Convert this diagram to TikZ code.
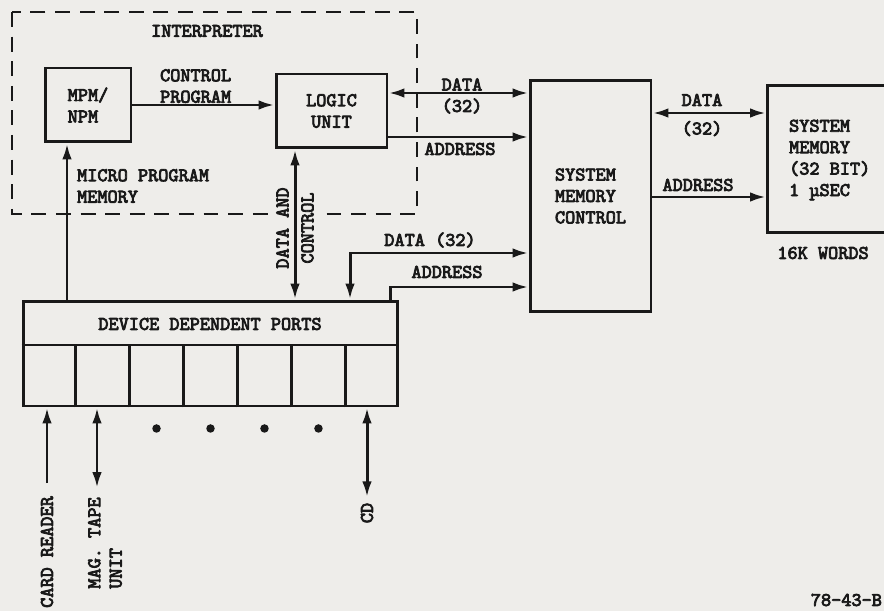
\documentclass[tikz,border=0pt]{standalone}
\usepackage{fontspec}
\setmonofont{lmmono10-regular.otf}[AutoFakeBold=4]
\usetikzlibrary{arrows.meta,calc,positioning}
\definecolor{paper}{RGB}{238,237,234}
\definecolor{ink}{RGB}{25,25,25}
\tikzset{
  box/.style={draw=ink, line width=1.7pt, inner sep=0pt},
  lbl/.style={text=ink, font=\ttfamily\bfseries\fontsize{11}{12.2}\selectfont, inner sep=1pt},
  flow/.style={draw=ink, line width=1.7pt},
}

\begin{document}
\begin{tikzpicture}[x=0.02cm,y=-0.02cm,>={Latex[length=9pt,width=5.4pt]}]
  % page
  \fill[paper] (0,0) rectangle (884,611);
  \useasboundingbox (0,0) rectangle (884,611);
  \clip (0,0) rectangle (884,611);

  % interpreter outline
  \draw[ink, line width=1.6pt, dash pattern=on 8.5pt off 5.5pt] (12,12) rectangle (417,214);
  \node[lbl] (interp) at (207,31) {INTERPRETER};

  % blocks
  \node[box, lbl, align=left, minimum width=1.72cm, minimum height=1.48cm] (mpm) at (88,105) {MPM/\\NPM};
  \node[box, lbl, align=center, minimum width=2.22cm, minimum height=1.48cm] (logic) at (331.5,111) {LOGIC\\UNIT};
  \node[box, lbl, align=left, minimum width=2.42cm, minimum height=4.64cm] (smc) at (590.5,196) {SYSTEM\\MEMORY\\CONTROL};
  \node[box, minimum width=2.9cm, minimum height=2.96cm, anchor=west] (mem) at (766,159) {};
  \node[lbl, align=left, anchor=west] (memtxt) at (787,160) {SYSTEM\\MEMORY\\(32 BIT)\\1 µSEC};
  \node[lbl] (words) at (823,253) {16K WORDS};

  % device dependent ports
  \node[box, minimum width=7.5cm, minimum height=2.1cm] (ddp) at (210.5,353.5) {};
  \coordinate (split) at (0,345);
  \draw[flow] (ddp.west |- split) -- (ddp.east |- split);
  \node[lbl] (ddptxt) at (210,324) {DEVICE DEPENDENT PORTS};
  \foreach \i in {1,...,6}
    \draw[flow] ($(ddp.south west)!\i/7!(ddp.south east)$) coordinate (cut) -- (cut |- split);
  \foreach \i in {2.5,3.5,4.5,5.5}
    \fill[ink] ($(ddp.south west)!\i/7!(ddp.south east)$) ++(0,21) circle (0.085cm);

  % control program and micro program memory
  \draw[flow,->] (mpm.east) -- (logic.west |- mpm.east);
  \node[lbl, align=left, anchor=south west] (ctltxt) at (158,105) {CONTROL\\PROGRAM};
  \coordinate (mpin) at (67,0);
  \draw[flow,->] (mpin |- ddp.north) -- (mpin |- mpm.south);
  \node[lbl, align=left, anchor=west] (mptxt) at (75,186) {MICRO PROGRAM\\MEMORY};

  % data and control link
  \coordinate (dc) at (295,0);
  \node[lbl, rotate=90, align=center, fill=paper, inner ysep=4pt] (dctxt) at (295,228) {DATA AND\\[2pt]CONTROL};
  \draw[flow,<->] (dc |- logic.south) -- (dc |- ddp.north);

  % buses to memory control
  \coordinate (bus1) at (0,93);
  \coordinate (bus2) at (0,137);
  \draw[flow,<->] (logic.east |- bus1) -- (smc.west |- bus1);
  \draw[flow,->] (logic.east |- bus2) -- (smc.west |- bus2);
  \node[lbl, align=center] (bus1txt) at (462,96) {DATA\\(32)};
  \node[lbl] (bus2txt) at (460,149) {ADDRESS};

  \coordinate (bus3) at (350,253);
  \coordinate (bus4) at (390,287);
  \draw[flow,<->] (bus3 |- ddp.north) |- (smc.west |- bus3);
  \draw[flow,->] (bus4 |- ddp.north) |- (smc.west |- bus4);
  \node[lbl] (bus3txt) at (430,240) {DATA (32)};
  \node[lbl] (bus4txt) at (447,272) {ADDRESS};

  % buses to system memory
  \coordinate (bus5) at (0,113);
  \coordinate (bus6) at (0,197);
  \draw[flow,<->] (smc.east |- bus5) -- (mem.west |- bus5);
  \draw[flow,->] (smc.east |- bus6) -- (mem.west |- bus6);
  \node[lbl, align=center] (bus5txt) at (702,115) {DATA\\[4pt](32)};
  \node[lbl] (bus6txt) at (698,185) {ADDRESS};

  % peripherals
  \node[lbl, rotate=90] (cr) at (47,552) {CARD READER};
  \coordinate (crp) at (47,483);
  \draw[flow,->] (crp) -- (crp |- ddp.south);
  \node[lbl, rotate=90, align=left] (mt) at (105,543) {MAG. TAPE\\UNIT};
  \coordinate (mtp) at (97,488);
  \draw[flow,<->] (mtp) -- (mtp |- ddp.south);
  \node[lbl, rotate=90] (cd) at (367,513) {CD};
  \draw[flow,<->,shorten <=2pt] (cd.east) -- (cd.east |- ddp.south);

  \node[lbl, anchor=east] (fig) at (884,600) {78-43-B};
\end{tikzpicture}
\end{document}
